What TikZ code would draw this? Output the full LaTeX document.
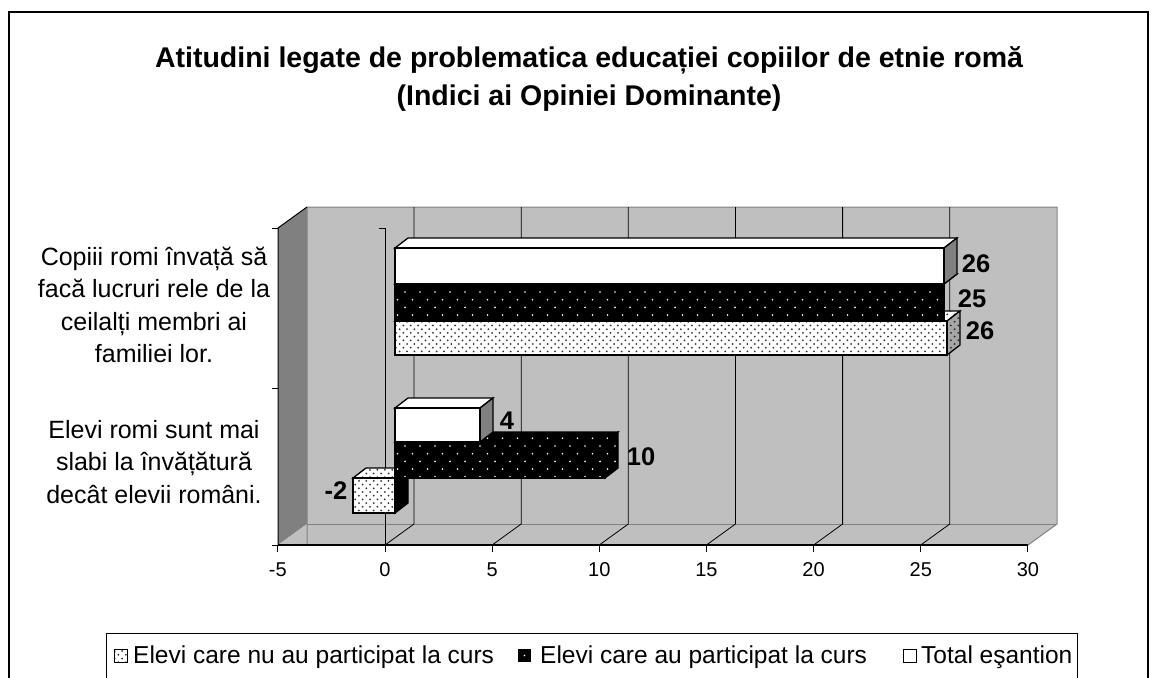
\documentclass[tikz,border=0pt]{standalone}
\usepackage{fontspec}
\setmainfont{Liberation Sans}
\usetikzlibrary{patterns}
\definecolor{perete}{rgb}{0.75,0.75,0.75}
\definecolor{umbra}{rgb}{0.5,0.5,0.5}

% modele de puncte
\pgfdeclarepatternformonly{puncte}{\pgfqpoint{-1.5pt}{-1.5pt}}{\pgfqpoint{8pt}{8pt}}{\pgfqpoint{7.4pt}{7.4pt}}{%
  \pgfpathcircle{\pgfqpoint{0pt}{0pt}}{1pt}%
  \pgfpathcircle{\pgfqpoint{3.7pt}{3.7pt}}{1pt}%
  \pgfusepath{fill}}
\pgfdeclarepatternformonly{puncterare}{\pgfqpoint{-1pt}{-1pt}}{\pgfqpoint{16pt}{16pt}}{\pgfqpoint{15pt}{15.4pt}}{%
  \pgfpathcircle{\pgfqpoint{0pt}{0pt}}{0.9pt}%
  \pgfpathcircle{\pgfqpoint{7.5pt}{7.7pt}}{0.9pt}%
  \pgfusepath{fill}}

% bara 3D: x1, x2, y sus, y jos, fata, capac, lateral
\newcommand{\bara}[7]{%
  \draw[#6] (#1,#3) -- ++(13,-10) -- (#2+13,#3-10) -- (#2,#3) -- cycle;
  \draw[#7] (#2,#3) -- ++(13,-10) -- (#2+13,#4-10) -- (#2,#4) -- cycle;
  \draw[#5] (#1,#3) rectangle (#2,#4);}

\begin{document}
\begin{tikzpicture}[x=1pt,y=-1pt,
    titlu/.style={font=\bfseries\fontsize{28.5}{38}\selectfont, align=center},
    eticheta/.style={font=\fontsize{25}{32.5}\selectfont, align=center},
    valoare/.style={font=\bfseries\fontsize{25.5}{30}\selectfont, inner sep=0},
    axa/.style={font=\fontsize{20}{24}\selectfont, inner sep=0},
    legenda/.style={font=\fontsize{24.5}{28}\selectfont, anchor=base west, inner sep=0},
    contur/.style={draw=black, line width=1.3},
    alba/.style={contur, fill=white},
    gri/.style={contur, fill=umbra},
    neagra/.style={contur, preaction={fill=black}, pattern=puncterare, pattern color=white},
    punctata/.style={contur, preaction={fill=white}, pattern=puncte, pattern color=black!80},
    punctatagri/.style={contur, preaction={fill=black!35}, pattern=puncte, pattern color=black!85},
    grila/.style={draw=black, line width=0.8}]
  \useasboundingbox (0,0) rectangle (1158,677);

  %Cadru
  \draw[line width=1.2] (9,700) -- (9,12) -- (1148,12) -- (1148,700);
  \node[titlu] (titlu) at (589,79) {Atitudini legate de problematica educației copiilor de etnie romă\\(Indici ai Opiniei Dominante)};

  %Pereti
  \fill[umbra] (278,228) -- (307,207) -- (307,524) -- (278,545) -- cycle;
  \fill[perete] (307,207) rectangle (1057,524);
  \fill[perete] (278,545) -- (307,524) -- (1057,524) -- (1028,545) -- cycle;
  \draw[umbra, line width=1] (307,545) -- (307,207) -- (1057,207) -- (1057,524) -- (1028,545);
  \draw[umbra, line width=1] (307,524) -- (1057,524);
  \draw[line width=1] (278,545) -- (278,228) -- (307,207);

  %Grila
  \foreach \v in {0,5,...,25}
    \draw[grila] ({385+\v*21.43},545) -- ++(29,-21) -- ++(0,-317);

  %Axe
  \draw[line width=1.3] (278,545) -- (1028,545);
  \foreach \v in {-5,0,...,30} {
    \draw[line width=1] ({385+\v*21.43},545) -- ++(0,7);
    \node[axa] (tick\v) at ({385+\v*21.43},570) {\v};
  }
  \draw[line width=1] (379,228) -- (385,228) -- (385,545);
  \foreach \y in {228,388,545}
    \draw[line width=1] (272,\y) -- (278,\y);

  %Categoria 1
  \bara{395}{947}{321}{355}{punctata}{punctata}{punctatagri}
  \bara{395}{944}{284}{321}{neagra}{neagra}{draw=none}
  \bara{395}{944}{248}{284}{alba}{alba}{gri}
  %Categoria 2
  \bara{353}{395}{478}{513}{punctata}{punctata}{contur, fill=black}
  \bara{395}{605}{442}{478}{neagra}{neagra}{neagra}
  \bara{395}{480}{408}{442}{alba}{alba}{gri}

  %Valori
  \node[valoare] (v1) at (976,264) {26};
  \node[valoare] (v2) at (972,299) {25};
  \node[valoare] (v3) at (980,331) {26};
  \node[valoare] (v4) at (507,421) {4};
  \node[valoare] (v5) at (641,457) {10};
  \node[valoare] (v6) at (336,491) {-2};

  %Etichete
  \node[eticheta] (cat1) at (154,305) {Copiii romi învață să\\facă lucruri rele de la\\ceilalți membri ai\\familiei lor.};
  \node[eticheta] (cat2) at (154,462) {Elevi romi sunt mai\\slabi la învățătură\\decât elevii români.};

  %Legenda
  \draw[line width=1] (106,700) -- (106,633) -- (1077,633) -- (1077,700);
  \draw[punctata, line width=1] (114,649) rectangle (127,662);
  \node[legenda] (leg1) at (133,663) {Elevi care nu au participat la curs};
  \fill[black] (518,649) rectangle (531,662);
  \fill[white] (524.5,655.5) circle (0.9);
  \node[legenda] (leg2) at (540,663) {Elevi care au participat la curs};
  \draw[alba, line width=1] (903,649) rectangle (916,662);
  \node[legenda] (leg3) at (921,663) {Total eşantion};
\end{tikzpicture}
\end{document}
